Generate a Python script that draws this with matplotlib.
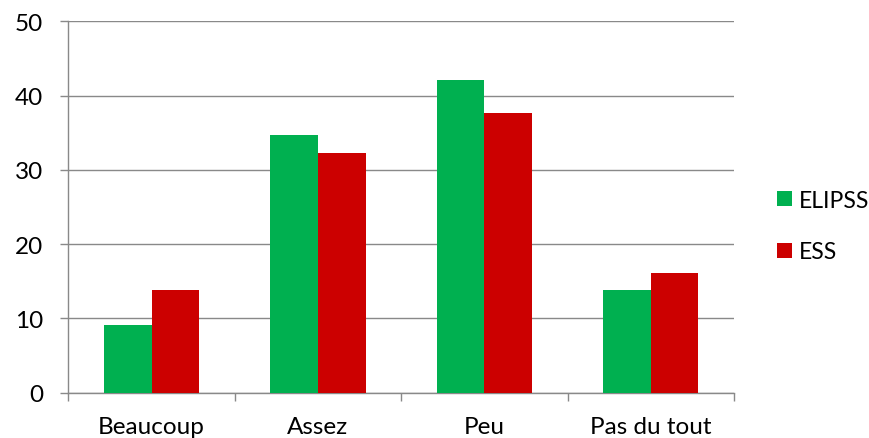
import matplotlib

matplotlib.use("Agg")
import matplotlib.pyplot as plt
import numpy as np

categories = ["Beaucoup", "Assez", "Peu", "Pas du tout"]
elipss = [9.1, 34.7, 42.1, 13.8]
ess = [13.8, 32.3, 37.6, 16.1]
series_names = ["ELIPSS", "ESS"]
y_ticks = [0, 10, 20, 30, 40, 50]

GREEN = "#00B050"
RED = "#CC0000"
GRID = "#898989"
FONT = "Lato"
FS = 17.5

fig = plt.figure(figsize=(8.69, 4.39), dpi=100)
ax = fig.add_axes([68.3 / 869, 1 - 393.7 / 439, (734 - 68.3) / 869, (393.7 - 22.3) / 439])

x = np.arange(len(categories))
w = 0.286
ax.bar(x - w / 2, elipss, width=w, color=GREEN, label=series_names[0], zorder=3)
ax.bar(x + w / 2, ess, width=w, color=RED, label=series_names[1], zorder=3)

ax.set_xlim(-0.5, len(categories) - 0.5)
ax.set_ylim(0, 50)
ax.set_yticks(y_ticks)
ax.yaxis.grid(True, color=GRID, linewidth=1.0, zorder=0)
ax.set_axisbelow(True)

for s in ["top", "right"]:
    ax.spines[s].set_visible(False)
for s in ["left", "bottom"]:
    ax.spines[s].set_color(GRID)
    ax.spines[s].set_linewidth(1.0)

ax.set_xticks(x)
ax.set_xticklabels(categories, fontfamily=FONT, fontsize=FS)
ax.set_xticks(np.arange(-0.5, len(categories), 1.0), minor=True)
ax.tick_params(axis="x", which="major", length=0, pad=16.5)
ax.tick_params(axis="x", which="minor", length=6, width=1.0, color=GRID, direction="out")
ax.tick_params(axis="y", length=6, width=1.0, color=GRID, pad=12)
for lbl in ax.get_yticklabels():
    lbl.set_fontfamily(FONT)
    lbl.set_fontsize(FS)

leg = ax.legend(
    loc="center left",
    bbox_to_anchor=(777 / 869, 1 - 227 / 439),
    bbox_transform=fig.transFigure,
    frameon=False,
    prop={"family": FONT, "size": 16.5},
    handlelength=0.65,
    handleheight=0.65,
    handletextpad=0.3,
    labelspacing=1.35,
    borderaxespad=0,
    borderpad=0,
)

fig.savefig("out.png", dpi=100)
